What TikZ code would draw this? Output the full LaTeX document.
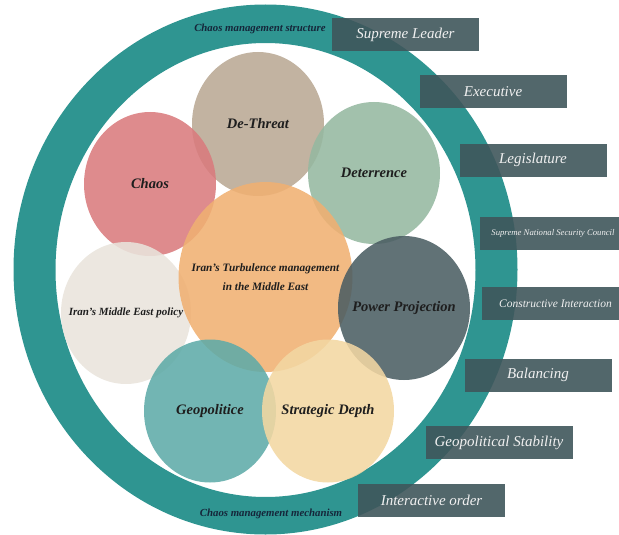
\documentclass[tikz,border=0pt]{standalone}
\usepackage{fontspec}
\setmainfont{Liberation Serif}
\usetikzlibrary{shapes.geometric}
\definecolor{ringc}{HTML}{2F9591}
\definecolor{boxc}{HTML}{3F565B}
\definecolor{txtc}{HTML}{1E1E1E}
\definecolor{navyc}{HTML}{15263A}
\definecolor{dethreatc}{HTML}{B9A894}
\definecolor{chaosc}{HTML}{D97B7D}
\definecolor{deterc}{HTML}{95B8A0}
\definecolor{policyc}{HTML}{E9E4DC}
\definecolor{turbc}{HTML}{F0B072}
\definecolor{powerc}{HTML}{4B5E63}
\definecolor{geoc}{HTML}{5FABA8}
\definecolor{stratc}{HTML}{F3D7A2}
\begin{document}
\begin{tikzpicture}[x=1pt,y=-1pt,
  bubble/.style={ellipse, minimum width=132pt, minimum height=144pt, inner sep=0pt,
    fill opacity=0.88},
  lbl/.style={text=txtc, align=center, inner sep=0pt, text opacity=1, fill opacity=1,
    font=\bfseries\itshape\fontsize{14.5}{17}\selectfont},
  smalllbl/.style={lbl, font=\bfseries\itshape\fontsize{11}{13}\selectfont},
  tag/.style={fill=boxc, fill opacity=0.9, text opacity=1, text=white!94!black,
    minimum width=147pt, minimum height=33pt, inner sep=0pt,
    font=\itshape\fontsize{15}{17}\selectfont},
  ringlabel/.style={text=navyc, inner sep=0pt, font=\bfseries\itshape\fontsize{10.8}{12}\selectfont}]
\useasboundingbox (0,0) rectangle (619,535);
% ring
\fill[ringc, even odd rule] (265.5,269.5) ellipse [x radius=252pt, y radius=265pt]
  (265.5,270) ellipse [x radius=210pt, y radius=227pt];
\node[ringlabel] (structure) at (260,29) {Chaos management structure};
\node[ringlabel] (mechanism) at (271,514) {Chaos management mechanism};
% bubbles
\node[bubble, fill=dethreatc, label={[lbl]center:De-Threat}] (dethreat) at (258,124) {};
\node[bubble, fill=chaosc, label={[lbl]center:Chaos}] (chaos) at (150,184) {};
\node[bubble, fill=deterc, minimum height=142pt, label={[lbl]center:Deterrence}] (deter) at (374,173) {};
\node[bubble, fill=policyc, minimum width=130pt, minimum height=142pt,
  label={[smalllbl]center:Iran's Middle East policy}] (policy) at (126,313) {};
\node[bubble, fill=turbc, minimum width=174pt, minimum height=190pt,
  label={[lbl, font=\bfseries\itshape\fontsize{11.3}{19.5}\selectfont]center:Iran's Turbulence management\\in the Middle East}] (turb) at (265.5,277) {};
\node[bubble, fill=powerc, label={[lbl]center:Power Projection}] (power) at (404,308) {};
\node[bubble, fill=geoc, minimum height=143pt, label={[lbl]center:Geopolitice}] (geo) at (210,411) {};
\node[bubble, fill=stratc, minimum height=143pt, label={[lbl]center:Strategic Depth}] (strat) at (328,411) {};
% tags
\node[tag] (leader) at (405.5,35) {Supreme Leader};
\node[tag] (exec) at (493,92) {Executive};
\node[tag] (legis) at (533,160) {Legislature};
\node[tag, font=\itshape\fontsize{8.7}{10}\selectfont] (snsc) at (553,233) {Supreme National Security Council};
\node[tag, font=\itshape\fontsize{11.5}{13}\selectfont] (constr) at (555.5,303.5) {Constructive Interaction};
\node[tag] (balance) at (538,375) {Balancing};
\node[tag] (stab) at (499,442.5) {Geopolitical Stability};
\node[tag] (order) at (431.5,500.5) {Interactive order};
\end{tikzpicture}
\end{document}
